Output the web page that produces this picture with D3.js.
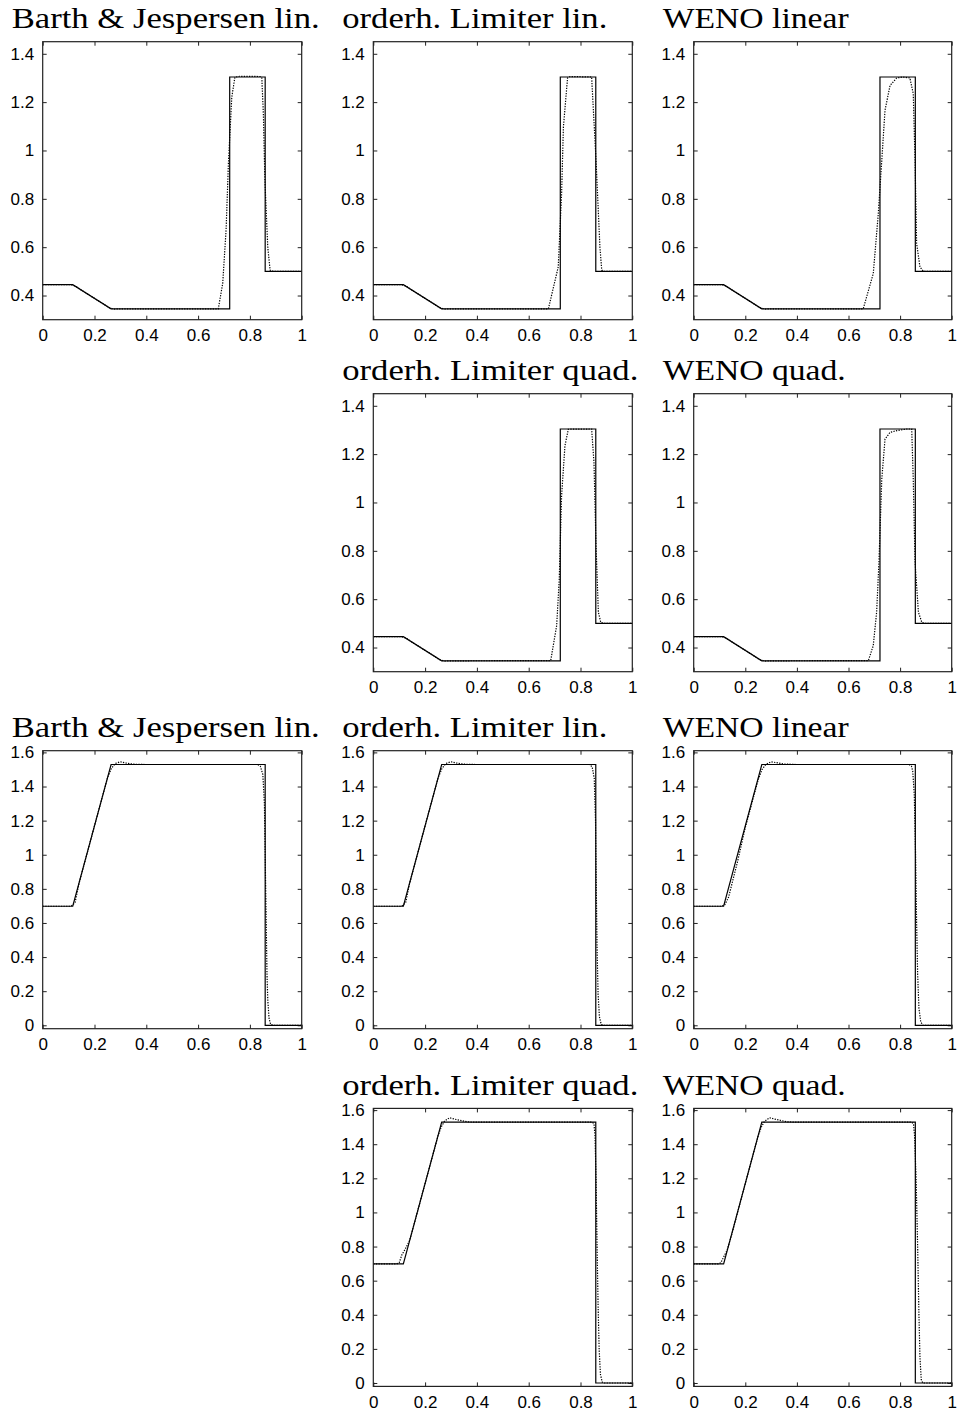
<!DOCTYPE html>
<html>
<head>
<meta charset="utf-8">
<script src="https://cdn.jsdelivr.net/npm/d3@7/dist/d3.min.js"></script>
<style>
  html, body { margin: 0; padding: 0; background: #fff; }
  svg { display: block; }
  .title { font-family: "Liberation Serif", "Times New Roman", serif; font-size: 30px; fill: #000; }
  .tick text { font-family: "Liberation Sans", Arial, sans-serif; font-size: 17px; fill: #000; }
</style>
</head>
<body>
<svg id="chart" width="958" height="1414"></svg>
<script>
// Lax shock tube: density (top block) and velocity (bottom block) at final time.
// Solid line: exact solution, dotted line: numerical solution of each scheme.

const xTicks = [0, 0.2, 0.4, 0.6, 0.8, 1];
const xTickLabels = ["0", "0.2", "0.4", "0.6", "0.8", "1"];
const rhoTicks = [0.4, 0.6, 0.8, 1.0, 1.2, 1.4];
const rhoTickLabels = ["0.4", "0.6", "0.8", "1", "1.2", "1.4"];
const uTicks = [0, 0.2, 0.4, 0.6, 0.8, 1.0, 1.2, 1.4, 1.6];
const uTickLabels = ["0", "0.2", "0.4", "0.6", "0.8", "1", "1.2", "1.4", "1.6"];
const rhoRange = [0.3, 1.45];
const uRange = [-0.02, 1.61];

const titles = [
  "Barth & Jespersen lin.", "orderh. Limiter lin.", "WENO linear",
  "orderh. Limiter quad.", "WENO quad."
];

// exact solution [x, value]
const rhoExact = [[0, 0.445], [0.116, 0.445], [0.264, 0.345], [0.722, 0.345], [0.722, 1.304],
  [0.859, 1.304], [0.859, 0.5], [1, 0.5]];
const uExact = [[0, 0.698], [0.116, 0.698], [0.264, 1.529], [0.859, 1.529], [0.859, 0], [1, 0]];

// numerical density
const rhoBJLin = [[0, 0.445], [0.105, 0.445], [0.125, 0.44], [0.15, 0.422], [0.19, 0.395], [0.23, 0.368],
  [0.255, 0.35], [0.275, 0.344], [0.3, 0.345], [0.678, 0.345], [0.695, 0.45], [0.708, 0.67], [0.717, 0.945],
  [0.73, 1.22], [0.742, 1.303], [0.76, 1.307], [0.84, 1.306], [0.846, 1.3], [0.852, 1.152], [0.858, 0.876],
  [0.869, 0.6], [0.878, 0.505], [0.89, 0.5], [1, 0.5]];
const rhoLimLin = [[0, 0.445], [0.105, 0.445], [0.125, 0.44], [0.15, 0.422], [0.19, 0.395], [0.23, 0.368],
  [0.255, 0.35], [0.275, 0.344], [0.3, 0.345], [0.676, 0.345], [0.714, 0.518], [0.727, 0.82], [0.734, 1.097],
  [0.75, 1.3], [0.76, 1.306], [0.843, 1.304], [0.86, 0.959], [0.875, 0.6], [0.882, 0.505], [0.89, 0.5], [1, 0.5]];
const rhoWenoLin = [[0, 0.445], [0.105, 0.445], [0.125, 0.44], [0.15, 0.422], [0.19, 0.395], [0.23, 0.368],
  [0.255, 0.35], [0.275, 0.344], [0.3, 0.345], [0.657, 0.345], [0.696, 0.491], [0.7155, 0.739], [0.729, 0.959],
  [0.7415, 1.166], [0.761, 1.269], [0.787, 1.3], [0.81, 1.304], [0.838, 1.3], [0.851, 1.235], [0.858, 0.959],
  [0.864, 0.616], [0.877, 0.518], [0.89, 0.5], [1, 0.5]];
const rhoLimQuad = [[0, 0.445], [0.105, 0.445], [0.125, 0.44], [0.15, 0.422], [0.19, 0.395], [0.23, 0.368],
  [0.255, 0.35], [0.275, 0.344], [0.3, 0.345], [0.685, 0.346], [0.708, 0.491], [0.718, 0.683], [0.727, 1.028],
  [0.74, 1.235], [0.753, 1.303], [0.843, 1.304], [0.852, 1.166], [0.86, 0.821], [0.869, 0.546], [0.878, 0.505],
  [0.89, 0.5], [1, 0.5]];
const rhoWenoQuad = [[0, 0.445], [0.105, 0.445], [0.125, 0.44], [0.15, 0.422], [0.19, 0.395], [0.23, 0.368],
  [0.255, 0.35], [0.275, 0.344], [0.3, 0.345], [0.677, 0.346], [0.696, 0.408], [0.709, 0.546], [0.718, 0.752],
  [0.729, 1.097], [0.7415, 1.262], [0.761, 1.29], [0.787, 1.297], [0.826, 1.304], [0.845, 1.304], [0.851, 1.097],
  [0.858, 0.752], [0.871, 0.546], [0.884, 0.505], [0.895, 0.5], [1, 0.5]];

// numerical velocity
const uBJLin = [[0, 0.698], [0.11, 0.698], [0.125, 0.72], [0.14, 0.83], [0.2, 1.17], [0.25, 1.45],
  [0.265, 1.505], [0.28, 1.535], [0.3, 1.545], [0.32, 1.538], [0.35, 1.531], [0.4, 1.529], [0.83, 1.529],
  [0.84, 1.52], [0.85, 1.47], [0.856, 1.3], [0.86, 0.9], [0.863, 0.6], [0.866, 0.3], [0.869, 0.15],
  [0.874, 0.04], [0.88, 0.005], [0.89, 0], [1, 0]];
const uLimLin = [[0, 0.698], [0.11, 0.698], [0.125, 0.72], [0.14, 0.83], [0.2, 1.17], [0.25, 1.45],
  [0.265, 1.505], [0.28, 1.535], [0.3, 1.545], [0.32, 1.538], [0.35, 1.531], [0.4, 1.529], [0.835, 1.529],
  [0.845, 1.515], [0.853, 1.45], [0.858, 1.2], [0.861, 0.8], [0.864, 0.45], [0.868, 0.18], [0.873, 0.05],
  [0.88, 0.005], [0.89, 0], [1, 0]];
const uWenoLin = [[0, 0.698], [0.105, 0.698], [0.12, 0.705], [0.135, 0.75], [0.15, 0.84], [0.17, 0.96],
  [0.2, 1.16], [0.25, 1.44], [0.265, 1.5], [0.28, 1.53], [0.3, 1.545], [0.32, 1.54], [0.35, 1.532],
  [0.4, 1.529], [0.835, 1.529], [0.844, 1.52], [0.849, 1.49], [0.855, 1.35], [0.86, 1.0], [0.864, 0.6],
  [0.868, 0.3], [0.873, 0.1], [0.88, 0.02], [0.888, 0], [1, 0]];
const uLimQuad = [[0, 0.698], [0.09, 0.698], [0.1, 0.705], [0.11, 0.75], [0.125, 0.79], [0.14, 0.835],
  [0.16, 0.945], [0.2, 1.17], [0.25, 1.45], [0.262, 1.5], [0.275, 1.535], [0.294, 1.555], [0.32, 1.545],
  [0.364, 1.531], [0.4, 1.529], [0.845, 1.529], [0.852, 1.52], [0.856, 1.45], [0.86, 1.2], [0.864, 0.8],
  [0.868, 0.45], [0.872, 0.2], [0.877, 0.05], [0.884, 0.005], [0.89, 0], [1, 0]];
const uWenoQuad = [[0, 0.698], [0.095, 0.698], [0.105, 0.705], [0.115, 0.735], [0.13, 0.78], [0.15, 0.885],
  [0.2, 1.17], [0.25, 1.45], [0.262, 1.5], [0.275, 1.535], [0.294, 1.555], [0.32, 1.545], [0.364, 1.531],
  [0.4, 1.529], [0.845, 1.529], [0.852, 1.52], [0.856, 1.45], [0.862, 1.2], [0.868, 0.8], [0.873, 0.4],
  [0.877, 0.15], [0.882, 0.02], [0.888, 0], [1, 0]];

// panel grid: [row, column, title index, quantity, numerical data]
const panels = [
  [0, 0, 0, "rho", rhoBJLin], [0, 1, 1, "rho", rhoLimLin], [0, 2, 2, "rho", rhoWenoLin],
  [1, 1, 3, "rho", rhoLimQuad], [1, 2, 4, "rho", rhoWenoQuad],
  [2, 0, 0, "u", uBJLin], [2, 1, 1, "u", uLimLin], [2, 2, 2, "u", uWenoLin],
  [3, 1, 3, "u", uLimQuad], [3, 2, 4, "u", uWenoQuad]
];

// layout
const colLeft = [42.7, 373.3, 693.7];
const colWidth = [259, 259, 258];
const rowTop = [41.7, 393.7, 750.7, 1108.4];
const panelH = 278;
const titleWidths = [308, 265, 186, 296, 183];

const svg = d3.select("#chart");

panels.forEach(([r, c, ti, q, num]) => {
  const x0 = colLeft[c], y0 = rowTop[r], w = colWidth[c], h = panelH;
  const g = svg.append("g").attr("transform", `translate(${x0},${y0})`);
  const x = d3.scaleLinear().domain([0, 1]).range([0, w]);
  const y = d3.scaleLinear().domain(q === "rho" ? rhoRange : uRange).range([h, 0]);
  const yt = q === "rho" ? rhoTicks : uTicks;
  const ytl = q === "rho" ? rhoTickLabels : uTickLabels;

  // axes with inward ticks, mirrored on top/right
  const bottom = d3.axisBottom(x).tickValues(xTicks).tickFormat((d, i) => xTickLabels[i])
    .tickSizeInner(-4).tickSizeOuter(0).tickPadding(9.5);
  const top = d3.axisTop(x).tickValues(xTicks).tickFormat("").tickSizeInner(-4).tickSizeOuter(0);
  const left = d3.axisLeft(y).tickValues(yt).tickFormat((d, i) => ytl[i])
    .tickSizeInner(-4).tickSizeOuter(0).tickPadding(8.5);
  const right = d3.axisRight(y).tickValues(yt).tickFormat("").tickSizeInner(-4).tickSizeOuter(0);

  [[bottom, `translate(0,${h})`], [top, null], [left, null], [right, `translate(${w},0)`]].forEach(([ax, tr]) => {
    const a = g.append("g").call(ax);
    if (tr) a.attr("transform", tr);
    a.select(".domain").remove();
    a.selectAll(".tick line").attr("stroke", "#222").attr("stroke-width", 1);
  });

  const line = d3.line().x(d => x(d[0])).y(d => y(d[1]));

  g.append("path").datum(q === "rho" ? rhoExact : uExact)
    .attr("d", line).attr("fill", "none").attr("stroke", "#000").attr("stroke-width", 1.2);
  g.append("path").datum(num)
    .attr("d", line).attr("fill", "none").attr("stroke", "#000").attr("stroke-width", 1.2)
    .attr("stroke-dasharray", "1.3,1.3");

  g.append("rect").attr("x", 0).attr("y", 0).attr("width", w).attr("height", h)
    .attr("fill", "none").attr("stroke", "#222").attr("stroke-width", 1.2);

  svg.append("text").attr("class", "title")
    .attr("x", x0 - 31).attr("y", y0 - 13.5)
    .attr("textLength", titleWidths[ti]).attr("lengthAdjust", "spacingAndGlyphs")
    .text(titles[ti]);
});
</script>
</body>
</html>
